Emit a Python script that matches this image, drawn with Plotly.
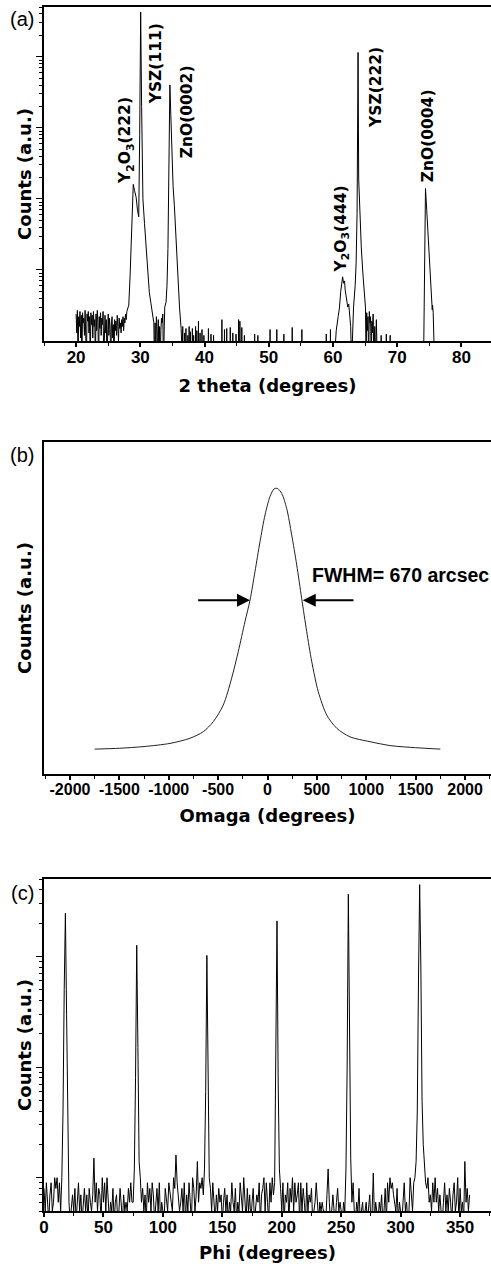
import math
import plotly.graph_objects as go

# ---------------- Panel (a): 2theta scan (log counts) ----------------
noise_a_start = 20.0
noise_a_step = 0.1
noise_a = [2.4, 1.3, 2.7, 0.5, 2.2, 1.6, 2.6, 1.1, 2.3, 0.5,
           2.5, 1.8, 2.1, 1.2, 2.7, 1.5, 0.5, 2.4, 1.9, 2.6,
           1.3, 2.2, 0.5, 2.5, 1.7, 2.3, 1.1, 2.6, 1.6, 2.0,
           0.5, 2.4, 1.4, 2.7, 1.8, 0.5, 2.2, 1.5, 2.5, 1.2,
           2.1, 1.7, 2.6, 0.5, 1.9, 2.3, 1.3, 2.0, 0.5, 1.6,
           2.4, 1.2, 2.1, 1.5, 0.5, 1.8, 2.2, 1.1, 1.7, 0.5,
           2.0, 1.4, 1.9, 1.2, 2.3, 1.6, 1.0, 2.1, 1.5, 1.8,
           1.3, 2.0, 1.6, 2.2, 1.4, 2.1, 1.8, 2.4, 2.0, 2.6, 2.8]

low_angle_x = [28.2, 28.4, 28.6, 28.75, 28.9, 29.1, 29.35, 29.55, 29.75, 29.9, 30.05, 30.2, 30.4,
               30.65, 30.9, 31.15, 31.4, 31.65, 31.9, 32.1, 32.2, 32.3, 32.4, 32.5, 32.6, 32.7,
               32.8, 32.9, 33.0, 33.1, 33.2, 33.3, 33.4, 33.5, 33.6, 33.8, 34.0, 34.15, 34.3,
               34.45, 34.6, 34.75, 34.9, 35.1, 35.3, 35.6, 35.9, 36.1, 36.35, 36.5]
low_angle_y = [3.2, 8, 36, 100, 160, 130, 105, 70, 56, 800, 42600, 2000, 100,
               45, 21, 9, 4.8, 3.4, 2.5, 1.8, 0.5, 1.8, 0.5, 2.2, 1.5, 0.5,
               2.0, 0.5, 1.6, 0.5, 1.4, 2.1, 1.8, 2.4, 0.5, 3.0, 3.5, 6, 20,
               200, 4000, 1500, 400, 150, 80, 21, 6, 3, 1.5, 0.5]

spike_x = [36.6, 36.9, 37.1, 37.4, 37.6, 37.8, 38.1, 38.3, 38.6, 38.8, 39.05, 39.3, 39.6,
           39.9, 40.6, 41.0, 41.4, 42.7, 43.1, 43.45, 44.0, 44.4, 44.9, 45.3, 45.5, 45.8,
           46.2, 47.8, 48.3, 50.2, 51.25, 52.35, 53.65, 55.15, 58.95, 59.6]
spike_y = [1.6, 1.3, 1.5, 1.2, 1.6, 1.35, 1.5, 1.2, 1.6, 1.4, 1.9, 1.3, 1.45,
           1.2, 1.5, 1.25, 1.2, 2.0, 1.45, 1.5, 1.55, 1.3, 1.25, 2.0, 1.9, 1.55,
           1.2, 1.25, 1.2, 1.45, 1.45, 1.25, 1.55, 1.45, 1.25, 1.45]

high_angle_x = [60.2, 60.5, 60.8, 61.0, 61.2, 61.4, 61.5, 61.65, 61.8, 61.9, 62.1, 62.3, 62.45,
                62.6, 62.75, 62.9, 63.05, 63.2, 63.45, 63.6, 63.75, 63.85, 63.9, 64.0, 64.2,
                64.4, 64.65, 64.9, 65.05, 65.15, 65.25, 65.35, 65.45, 65.55, 65.65, 65.75,
                65.85, 65.95, 66.05, 66.15, 66.25, 66.35, 66.5, 66.6, 66.75, 66.9]
high_angle_y = [0.5, 1.4, 2.2, 2.9, 5, 7.5, 8, 6.5, 7, 5.2, 4, 3, 3.3,
                2, 1.6, 0.5, 1.5, 3.0, 6, 12.6, 63, 2000, 11500, 190, 60,
                21, 9, 5.2, 3, 0.5, 2.5, 1.4, 2.2, 0.5, 2.6, 1.8,
                2.2, 0.5, 1.9, 1.3, 2.4, 0.5, 1.6, 0.5, 2.0, 0.5]

spike2_x = [67.5, 68.3, 68.9]
spike2_y = [1.2, 1.25, 1.2]

zno4_x = [74.1, 74.2, 74.3, 74.4, 74.6, 74.8, 75.0, 75.2, 75.45, 75.5, 75.6, 75.8]
zno4_y = [0.5, 5, 40, 140, 68, 33, 16, 7.5, 2.75, 3.2, 2.5, 0.5]

labels_a = ["Y<sub>2</sub>O<sub>3</sub>(222)", "YSZ(111)", "ZnO(0002)",
            "Y<sub>2</sub>O<sub>3</sub>(444)", "YSZ(222)", "ZnO(0004)"]
labels_a_x = [27.8, 32.5, 37.2, 61.4, 66.6, 74.7]
labels_a_y = [150, 2000, 350, 8.5, 930, 160]

# ---------------- Panel (b): omega rocking curve ----------------
omega_b = [-1750, -1500, -1250, -987, -785, -650, -549, -448, -363, -296, -228, -177,
           -127, -76, -25, 25, 66, 99, 144, 194, 245, 296, 346, 397, 448, 514, 600, 701,
           835, 1038, 1250, 1500, 1750]
counts_b = [87, 90, 96, 107, 125, 148, 183, 241, 335, 428, 533, 608,
            707, 812, 906, 970, 997, 999, 981, 929, 836, 731, 614, 498, 393, 288, 206, 160,
            130, 113, 99, 92, 87]
fwhm_left = [-717, -177]
fwhm_right = [886, 357]
fwhm_level = 608
fwhm_text = "FWHM= 670 arcsec"
omega_ticks = [-2000, -1500, -1000, -500, 0, 500, 1000, 1500, 2000]
omega_ticktext = ["-2000", "-1500", "-1000", "-500", "0", "500", "1000", "1500", "2000"]

# ---------------- Panel (c): phi scan (log counts) ----------------
phi_counts = [
    8, 5, 9, 6, 4, 7, 9, 5, 6, 10,
    8, 10, 6, 9, 5, 10, 40, 500, 2450, 300,
    25, 6, 4, 5, 7, 5, 8, 4, 6, 9,
    5, 7, 4, 6, 8, 5, 7, 4, 8, 6,
    5, 7, 15, 6, 9, 5, 8, 7, 4, 10,
    6, 9, 5, 10, 7, 4, 6, 5, 8, 4,
    6, 7, 4, 5, 8, 6, 4, 7, 5, 6,
    5, 8, 6, 9, 6, 6, 12, 80, 1260, 150,
    14, 10, 6, 8, 5, 7, 4, 9, 6, 8,
    5, 9, 7, 4, 6, 8, 5, 9, 4, 6,
    5, 4, 8, 6, 5, 9, 7, 6, 5, 10,
    8, 16, 9, 7, 5, 6, 8, 5, 9, 4,
    7, 5, 9, 6, 4, 10, 8, 5, 7, 14,
    6, 9, 8, 10, 7, 12, 60, 1020, 90, 10,
    8, 5, 9, 6, 4, 7, 5, 8, 6, 7,
    4, 6, 8, 5, 7, 4, 6, 5, 9, 6,
    5, 8, 4, 6, 5, 9, 7, 5, 10, 6,
    4, 8, 5, 7, 4, 6, 8, 4, 5, 7,
    6, 9, 4, 7, 8, 10, 5, 9, 6, 4,
    9, 6, 10, 7, 9, 90, 2090, 70, 12, 8,
    5, 9, 4, 7, 6, 9, 4, 8, 6, 10,
    5, 9, 6, 7, 9, 4, 9, 5, 8, 6,
    4, 9, 5, 7, 6, 8, 4, 5, 6, 9,
    5, 4, 6, 5, 6, 5, 5, 4, 7, 12,
    6, 4, 5, 7, 5, 4, 6, 8, 5, 6,
    5, 4, 6, 5, 12, 100, 3640, 180, 15, 6,
    9, 5, 4, 6, 5, 8, 4, 5, 6, 4,
    5, 6, 4, 5, 7, 4, 5, 11, 4, 6,
    5, 4, 6, 5, 7, 4, 5, 8, 4, 9,
    6, 10, 8, 9, 7, 6, 5, 8, 4, 6,
    5, 4, 6, 9, 5, 6, 4, 5, 10, 7,
    5, 9, 10, 14, 40, 600, 4450, 800, 50, 20,
    12, 9, 8, 10, 6, 7, 5, 9, 6, 10,
    6, 8, 5, 7, 5, 4, 6, 9, 5, 7,
    5, 8, 6, 4, 7, 9, 5, 6, 10, 4,
    8, 5, 6, 4, 14, 6, 8, 5, 7]
phi_step = 1.0

# ---------------- build (a) series ----------------
FLOOR = 0.5
tt_x = [round(noise_a_start + noise_a_step * i, 2) for i in range(len(noise_a))]
tt_y = list(noise_a)
tt_x += low_angle_x
tt_y += low_angle_y
for sx, sy in zip(spike_x, spike_y):
    tt_x += [sx - 0.04, sx, sx + 0.04]
    tt_y += [FLOOR, sy, FLOOR]
tt_x += high_angle_x
tt_y += high_angle_y
for sx, sy in zip(spike2_x, spike2_y):
    tt_x += [sx - 0.04, sx, sx + 0.04]
    tt_y += [FLOOR, sy, FLOOR]
tt_x += zno4_x
tt_y += zno4_y

phi_x = [phi_step * i for i in range(len(phi_counts))]

# ---------------- figure ----------------
W, H = 491, 1269
FONT = "Liberation Sans, Arial, Helvetica, sans-serif"
WIDE = "DejaVu Sans, Verdana, sans-serif"
x0 = 44 / W


def ydom(top_px, bot_px):
    return [1 - bot_px / H, 1 - top_px / H]


fig = go.Figure()
fig.add_trace(go.Scatter(x=tt_x, y=tt_y, mode="lines", line=dict(color="black", width=1),
                         xaxis="x", yaxis="y", hoverinfo="skip"))
fig.add_trace(go.Scatter(x=omega_b, y=counts_b, mode="lines",
                         line=dict(color="#222", width=1, shape="spline", smoothing=0.8),
                         xaxis="x2", yaxis="y2", hoverinfo="skip"))
fig.add_trace(go.Scatter(x=phi_x, y=phi_counts, mode="lines", line=dict(color="black", width=1),
                         xaxis="x3", yaxis="y3", hoverinfo="skip"))

tickfont = dict(family=FONT, size=17, color="black", weight="bold")
titlefont = dict(family=WIDE, size=18, color="black", weight="bold")

common_x = dict(showline=True, linecolor="black", linewidth=2, mirror=True, ticks="outside",
                ticklen=4, tickwidth=1.5, tickcolor="black", showgrid=False, zeroline=False,
                automargin=False, tickfont=tickfont, ticklabelstandoff=-4)
common_y = dict(showline=True, linecolor="black", linewidth=2, mirror=False, showgrid=False,
                zeroline=False, automargin=False, showticklabels=False)

log_major = [10, 100, 1000, 10000]
log_minor = [k * 10 ** e for e in range(0, 5) for k in range(2, 10)]

fig.update_layout(
    width=W, height=H, margin=dict(l=0, r=0, t=0, b=0),
    paper_bgcolor="white", plot_bgcolor="white", showlegend=False,
    xaxis=dict(common_x, domain=[x0, 1], anchor="y", range=[15, 84.6],
               tickvals=[20, 30, 40, 50, 60, 70, 80],
               minor=dict(tickvals=[15, 25, 35, 45, 55, 65, 75, 85], ticks="outside", ticklen=3,
                          tickcolor="black", tickwidth=1.2),
               title=dict(text="2 theta (degrees)", font=titlefont, standoff=13)),
    yaxis=dict(common_y, domain=ydom(7, 341), anchor="x", type="log", range=[0, 4.70],
               ticks="outside", ticklen=6, tickwidth=1.2, tickcolor="black", tickvals=log_major,
               minor=dict(tickvals=log_minor, ticks="outside", ticklen=3, tickcolor="black", tickwidth=1),
               title=dict(text="Counts (a.u.)", font=titlefont, standoff=0)),
    xaxis2=dict(common_x, domain=[x0, 1], anchor="y2", range=[-2263, 2263],
                tickvals=omega_ticks, ticktext=omega_ticktext,
                tickfont=dict(tickfont, size=16),
                minor=dict(dtick=250, tick0=0, ticks="outside", ticklen=3, tickcolor="black", tickwidth=1.2),
                title=dict(text="Omaga (degrees)", font=titlefont, standoff=12)),
    yaxis2=dict(common_y, domain=ydom(442, 774), anchor="x2", range=[0, 1161], ticks="",
                title=dict(text="Counts (a.u.)", font=titlefont, standoff=6)),
    xaxis3=dict(common_x, domain=[x0, 1], anchor="y3", range=[0, 376],
                tickvals=[0, 50, 100, 150, 200, 250, 300, 350],
                minor=dict(dtick=25, tick0=0, ticks="outside", ticklen=3, tickcolor="black", tickwidth=1.2),
                title=dict(text="Phi (degrees)", font=titlefont, standoff=10)),
    yaxis3=dict(common_y, domain=ydom(879, 1211), anchor="x3", type="log", range=[0.699, 3.699],
                ticks="outside", ticklen=6, tickwidth=1.2, tickcolor="black", tickvals=[10, 100, 1000],
                minor=dict(tickvals=[k * 10 ** e for e in range(0, 4) for k in range(2, 10)],
                           ticks="outside", ticklen=3, tickcolor="black", tickwidth=1),
                title=dict(text="Counts (a.u.)", font=titlefont, standoff=0)),
)

annots = []
for txt, lx, ly in zip(labels_a, labels_a_x, labels_a_y):
    annots.append(dict(x=lx, y=math.log10(ly), xref="x", yref="y", text=txt, showarrow=False,
                       textangle=-90, xanchor="center", yanchor="bottom",
                       font=dict(family=WIDE, size=15.5, color="black", weight="bold")))

# FWHM arrows and label
for seg in (fwhm_left, fwhm_right):
    annots.append(dict(x=seg[1], y=fwhm_level, ax=seg[0], ay=fwhm_level, xref="x2", yref="y2",
                       axref="x2", ayref="y2", text="", showarrow=True, arrowhead=2, arrowsize=1.3,
                       arrowwidth=2, arrowcolor="black", standoff=0))
annots.append(dict(x=430, y=696, xref="x2", yref="y2", text=fwhm_text, showarrow=False,
                   xanchor="left", yanchor="middle",
                   font=dict(family=FONT, size=19.5, color="black", weight="bold")))

# panel letters
for letter, ypx in [("(a)", 19), ("(b)", 455), ("(c)", 893)]:
    annots.append(dict(x=22 / W, y=1 - ypx / H, xref="paper", yref="paper", text=letter,
                       showarrow=False, xanchor="center", yanchor="middle",
                       font=dict(family=FONT, size=20, color="black")))

fig.update_layout(annotations=annots)
fig.write_html("out.html", config={"displayModeBar": False},
               post_script="document.body.style.margin='0px';document.body.style.overflow='hidden';")
